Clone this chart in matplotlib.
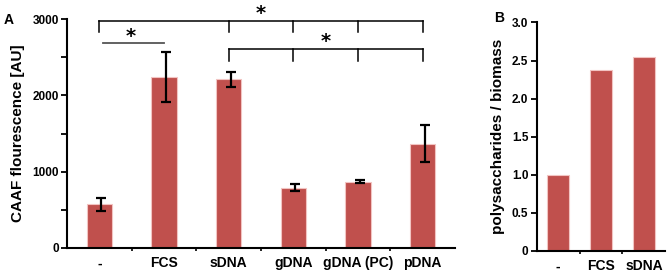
import numpy as np
import matplotlib.pyplot as plt
from matplotlib.ticker import FixedLocator, NullFormatter

plt.rcParams['font.family'] = ['Liberation Sans', 'DejaVu Sans']
plt.rcParams['font.weight'] = 'bold'

# panel A data
cats_a = ['-', 'FCS', 'sDNA', 'gDNA', 'gDNA (PC)', 'pDNA']
caaf = [570, 2245, 2210, 790, 870, 1365]
caaf_err = [85, 330, 95, 48, 22, 245]

# panel B data
cats_b = ['-', 'FCS', 'sDNA']
ratio = [1.0, 2.38, 2.54]

bar_col = '#C0504D'
edge_col = '#F2C4C2'

fig = plt.figure(figsize=(6.7, 2.77), dpi=100)
axA = fig.add_axes([0.1, 0.105, 0.579, 0.826])
axB = fig.add_axes([0.801, 0.094, 0.192, 0.825])


def style(ax):
    for s in ['top', 'right']:
        ax.spines[s].set_visible(False)
    for s in ['left', 'bottom']:
        ax.spines[s].set_linewidth(1.5)
        ax.spines[s].set_color('black')
    ax.tick_params(axis='y', direction='out', length=4, width=1.3, labelsize=8.5, pad=2)
    ax.tick_params(axis='x', which='major', length=0, labelsize=10, pad=6)
    ax.tick_params(axis='x', which='minor', direction='out', length=2.5, width=1.2)
    for lab in ax.get_xticklabels() + ax.get_yticklabels():
        lab.set_fontweight('bold')


# ---- panel A ----
xa = np.arange(len(cats_a))
axA.bar(xa, caaf, width=0.39, color=bar_col, edgecolor=edge_col, linewidth=0.8)
axA.errorbar(xa + 0.03, caaf, yerr=caaf_err, fmt='none', ecolor='black',
             elinewidth=1.6, capsize=3.5, capthick=1.6)
axA.set_xlim(-0.5, 5.5)
axA.set_ylim(0, 3000)
axA.set_yticks([0, 1000, 2000, 3000])
axA.yaxis.set_minor_locator(FixedLocator([500, 1500, 2500]))
axA.tick_params(axis='y', which='minor', direction='out', length=4, width=1.3)
axA.set_xticks(xa)
axA.set_xticklabels(cats_a)
axA.xaxis.set_minor_locator(FixedLocator(np.arange(0.5, 5.5, 1)))
axA.xaxis.set_minor_formatter(NullFormatter())
axA.set_ylabel('CAAF flourescence [AU]', fontsize=11, fontweight='bold', labelpad=5)
style(axA)

# significance brackets
kw = dict(color='black', lw=1.1, clip_on=False)
star = dict(ha='center', va='center', fontsize=14, fontweight='bold',
            family=['DejaVu Sans'])
axA.plot([0, 5], [2975, 2975], **kw)
for xp in [0, 2, 3, 4, 5]:
    axA.plot([xp, xp], [2975, 2830], **kw)
axA.text(2.5, 3075, '*', **star)

axA.plot([0.05, 1.0], [2690, 2690], color='#555555', lw=1.3, clip_on=False)
axA.text(0.48, 2770, '*', **star)

axA.plot([2, 5], [2605, 2605], **kw)
for xp in [2, 3, 4, 5]:
    axA.plot([xp, xp], [2605, 2450], **kw)
axA.text(3.5, 2710, '*', **star)

fig.text(0.005, 0.915, 'A', fontsize=10, fontweight='bold')

# ---- panel B ----
xb = np.arange(len(cats_b))
axB.bar(xb, ratio, width=0.51, color=bar_col, edgecolor=edge_col, linewidth=0.8)
axB.set_xlim(-0.5, 2.5)
axB.set_ylim(0, 3.0)
axB.set_yticks([0, 0.5, 1.0, 1.5, 2.0, 2.5, 3.0])
axB.set_yticklabels(['0', '0.5', '1.0', '1.5', '2.0', '2.5', '3.0'])
axB.set_xticks(xb)
axB.set_xticklabels(cats_b)
axB.xaxis.set_minor_locator(FixedLocator([0.5, 1.5]))
axB.xaxis.set_minor_formatter(NullFormatter())
axB.set_ylabel('polysaccharides / biomass', fontsize=11, fontweight='bold', labelpad=5)
style(axB)

fig.text(0.738, 0.92, 'B', fontsize=10, fontweight='bold')

fig.savefig('out.png', dpi=100)
